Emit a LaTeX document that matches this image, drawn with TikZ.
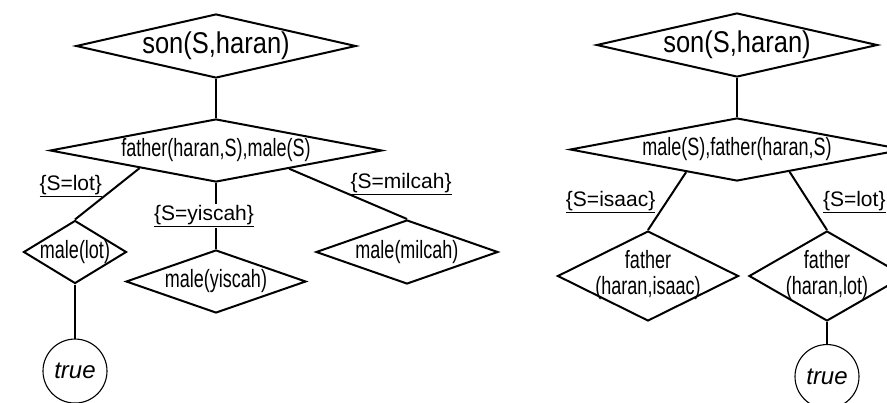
\documentclass[tikz,border=0pt]{standalone}
\usepackage{fontspec}
\setmainfont{Liberation Sans}
\newfontfamily\goalfont[FakeStretch=0.72]{Liberation Sans}
\newfontfamily\queryfont[FakeStretch=0.85]{Liberation Sans}
\usetikzlibrary{shapes.geometric, positioning}
\newcommand\gl[1]{\makebox[0pt]{#1}}

\begin{document}
\begin{tikzpicture}[x=1pt, y=-1pt, line width=2pt,
  goal/.style={diamond, draw, inner sep=0pt, font=\goalfont\fontsize{25}{26}\selectfont},
  query/.style={goal, font=\queryfont\fontsize{30}{32}\selectfont},
  done/.style={circle, draw, inner sep=0pt, minimum size=64pt, line width=1.1pt, font=\itshape\fontsize{24}{26}\selectfont},
  subst/.style={font=\fontsize{21}{23}\selectfont, inner sep=1pt}]

\clip (0,0) rectangle (887,402);

% first ordering
\node[query, minimum width=280pt, minimum height=64pt] (son1) at (216,46) {\gl{son(S,haran)}};
\node[goal, minimum width=332pt, minimum height=63pt, below=39pt of son1] (goal1) {\gl{father(haran,S),male(S)}};
\node[goal, minimum width=103pt, minimum height=63pt] (lot1) at (75,252) {\gl{male(lot)}};
\node[goal, minimum width=180pt, minimum height=63pt, below=66pt of goal1] (yis1) {\gl{male(yiscah)}};
\node[goal, minimum width=182pt, minimum height=64pt] (mil1) at (407,252) {\gl{male(milcah)}};
\node[done, below=54pt of lot1] (true1) {true};

\draw (son1) -- (goal1);
\draw (goal1.193) -- node[subst, pos=0.35, left=13pt] {\underline{\{S=lot\}}} (lot1.north);
\draw (goal1) -- node[subst, fill=white, xshift=-12pt] {\underline{\{S=yiscah\}}} (yis1);
\draw (goal1.346) -- node[subst, pos=0.3, right=24pt] {\underline{\{S=milcah\}}} (mil1.north);
\draw (lot1) -- (true1);

% second ordering
\node[query, minimum width=281pt, minimum height=64pt] (son2) at (737,45) {\gl{son(S,haran)}};
\node[goal, minimum width=334pt, minimum height=63pt, below=39pt of son2] (goal2) {\gl{male(S),father(haran,S)}};
\node[goal, minimum width=181pt, minimum height=90pt] (isa2) at (648,276)
  {\gl{\begin{tabular}{@{}c@{}}father\\(haran,isaac)\end{tabular}}};
\node[goal, minimum width=156pt, minimum height=90pt] (lot2) at (827,276)
  {\gl{\begin{tabular}{@{}c@{}}father\\(haran,lot)\end{tabular}}};
\node[done, below=22pt of lot2] (true2) {true};

\draw (son2) -- (goal2);
\draw (goal2.204) -- node[subst, pos=0.52, left=9pt] {\underline{\{S=isaac\}}} (isa2.north);
\draw (goal2.337) -- node[subst, pos=0.52, right=12pt] {\underline{\{S=lot\}}} (lot2.north);
\draw (lot2) -- (true2);

\end{tikzpicture}
\end{document}
